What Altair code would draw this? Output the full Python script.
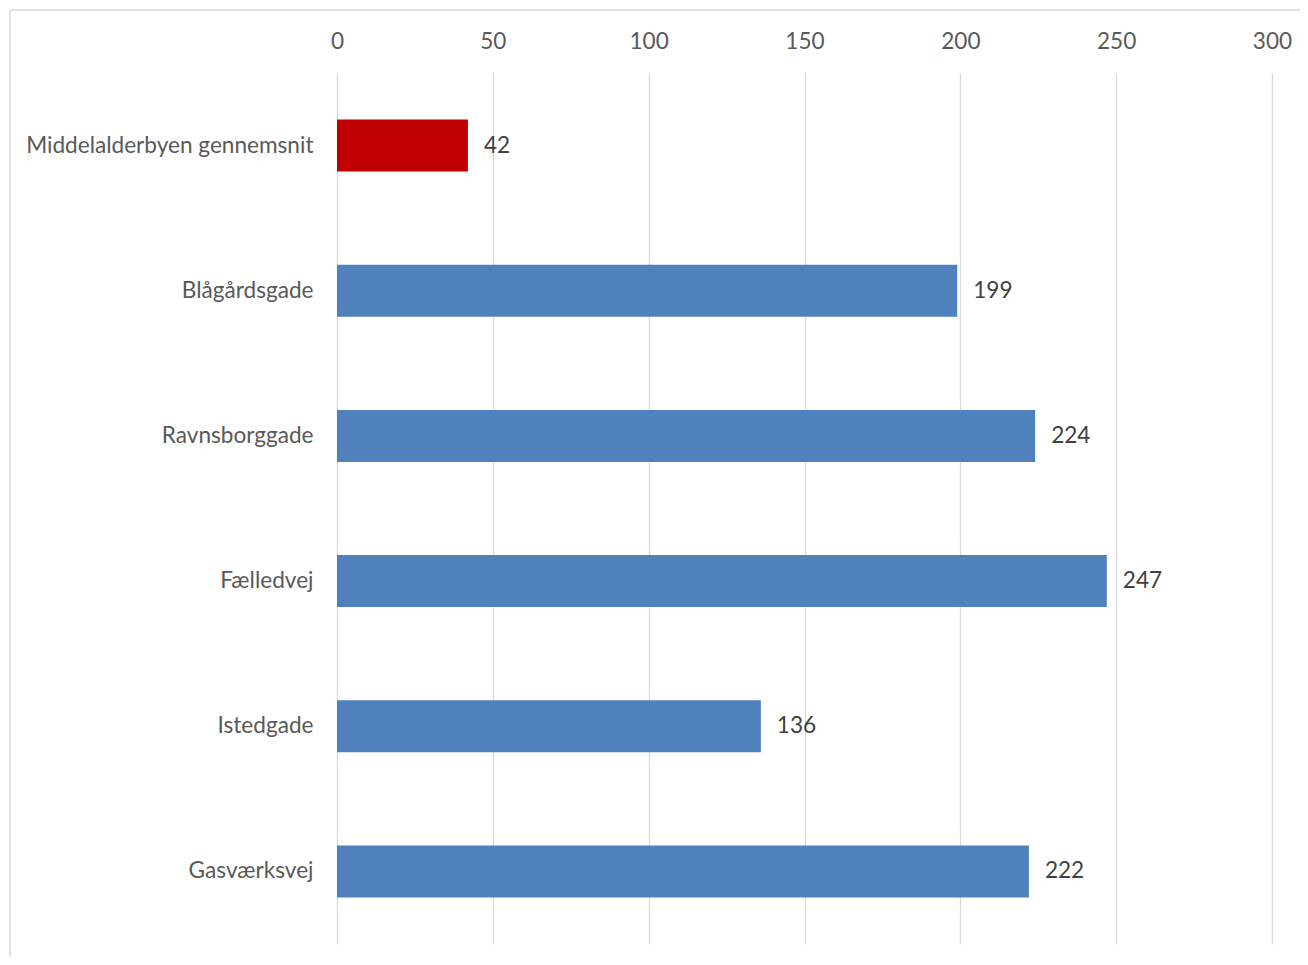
import altair as alt
import pandas as pd

categories = ["Middelalderbyen gennemsnit", "Blågårdsgade", "Ravnsborggade",
              "Fælledvej", "Istedgade", "Gasværksvej"]
values = [42, 199, 224, 247, 136, 222]
colors = ["#C00000", "#4F81BD", "#4F81BD", "#4F81BD", "#4F81BD", "#4F81BD"]
x_ticks = [0, 50, 100, 150, 200, 250, 300]

df = pd.DataFrame({"cat": categories, "val": values, "col": colors})

FONT = "Lato"
FS = 22.6

W, H = 935, 871

base = alt.Chart(df)

bars = base.mark_bar().encode(
    y=alt.Y("cat:N", sort=categories,
            scale=alt.Scale(paddingInner=0.642, paddingOuter=0.321),
            axis=alt.Axis(title=None, ticks=False, domain=False, grid=False,
                          labelPadding=24, labelFontSize=FS, labelFont=FONT,
                          labelColor="#595959", labelLimit=400)),
    x=alt.X("val:Q", scale=alt.Scale(domain=[0, 300], nice=False),
            axis=alt.Axis(orient="top", title=None, values=x_ticks, ticks=False,
                          domain=False, grid=True, gridColor="#d9d9d9",
                          gridWidth=1.3, labelPadding=20, labelFontSize=FS,
                          labelFont=FONT, labelColor="#595959",
                          labelFlush=False, labelOverlap=False)),
    color=alt.Color("col:N", scale=None),
)

labels = base.mark_text(align="left", baseline="middle", dx=16,
                        fontSize=FS, font=FONT, color="#404040").encode(
    y=alt.Y("cat:N", sort=categories),
    x=alt.X("val:Q"),
    text=alt.Text("val:Q"),
)

one = alt.Chart(pd.DataFrame({"a": [0]}))
frame_v = one.mark_rule(color="#d9d9d9", strokeWidth=1.5, clip=False).encode(
    x=alt.value(-327), y=alt.value(-63), y2=alt.value(H + 100))
frame_h = one.mark_rule(color="#d9d9d9", strokeWidth=1.5, clip=False).encode(
    x=alt.value(-327), x2=alt.value(W + 100), y=alt.value(-63))

chart = alt.layer(frame_v, frame_h, bars, labels).properties(
    width=W, height=H,
    background="white",
    autosize=alt.AutoSizeParams(type="none"),
    padding={"left": 329, "top": 65, "right": 28, "bottom": 13},
).configure_view(stroke=None, strokeWidth=0)

chart.save("out.html", embed_options={"renderer": "svg", "actions": False})
